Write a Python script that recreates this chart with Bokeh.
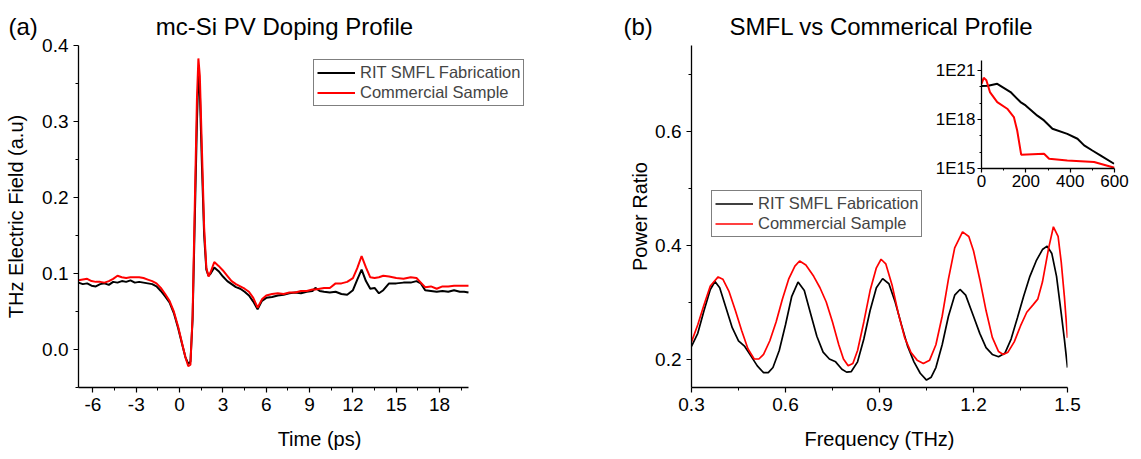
from bokeh.plotting import figure
from bokeh.layouts import row, column
from bokeh.models import (FixedTicker, PrintfTickFormatter, CustomJSTickFormatter,
                          Label, Legend, LegendItem, Range1d)
from bokeh.embed import file_html
from bokeh.resources import INLINE

FONT = "Liberation Sans"

# ---- (a) THz time-domain waveforms ----
time_ps = [-7.0, -6.7, -6.4, -6.1, -5.8, -5.5, -5.2, -4.9, -4.6, -4.3,
           -4.0, -3.7, -3.4, -3.1, -2.8, -2.5, -2.2, -1.9, -1.6, -1.3,
           -1.0, -0.7, -0.4, -0.1, 0.2, 0.4, 0.6, 0.75, 0.9, 1.05,
           1.2, 1.3, 1.4, 1.55, 1.7, 1.85, 2.0, 2.15, 2.4, 2.7,
           3.0, 3.3, 3.6, 3.9, 4.2, 4.5, 4.8, 5.1, 5.4, 5.7,
           6.0, 6.4, 6.8, 7.2, 7.6, 8.0, 8.4, 8.8, 9.2, 9.4,
           9.7, 10.0, 10.4, 10.8, 11.2, 11.6, 12.0, 12.3, 12.6, 12.9,
           13.2, 13.5, 13.8, 14.1, 14.5, 15.0, 15.5, 16.0, 16.4, 16.7,
           17.0, 17.4, 17.8, 18.2, 18.6, 19.0, 19.4, 19.7, 20.0]
field_smfl = [0.088, 0.086, 0.087, 0.084, 0.083, 0.086, 0.087, 0.085, 0.089, 0.088,
              0.090, 0.089, 0.091, 0.088, 0.089, 0.088, 0.087, 0.086, 0.083, 0.077,
              0.070, 0.062, 0.048, 0.028, 0.005, -0.010, -0.019, -0.016, 0.040, 0.170,
              0.300, 0.360, 0.340, 0.240, 0.150, 0.105, 0.097, 0.100, 0.108, 0.103,
              0.096, 0.090, 0.086, 0.082, 0.080, 0.076, 0.071, 0.063, 0.053, 0.064,
              0.068, 0.069, 0.071, 0.072, 0.074, 0.075, 0.074, 0.076, 0.077, 0.081,
              0.077, 0.076, 0.075, 0.076, 0.073, 0.072, 0.078, 0.092, 0.105, 0.090,
              0.080, 0.081, 0.074, 0.078, 0.087, 0.087, 0.088, 0.088, 0.090, 0.087,
              0.078, 0.077, 0.076, 0.077, 0.076, 0.078, 0.076, 0.076, 0.075]
field_comm = [0.091, 0.092, 0.093, 0.090, 0.089, 0.089, 0.088, 0.090, 0.093, 0.097,
              0.095, 0.094, 0.095, 0.095, 0.095, 0.094, 0.092, 0.090, 0.087, 0.081,
              0.073, 0.064, 0.050, 0.030, 0.006, -0.010, -0.022, -0.020, 0.045, 0.190,
              0.330, 0.383, 0.360, 0.260, 0.160, 0.108, 0.096, 0.102, 0.115, 0.110,
              0.104, 0.097, 0.090, 0.086, 0.083, 0.080, 0.076, 0.068, 0.055, 0.066,
              0.071, 0.073, 0.074, 0.073, 0.075, 0.075, 0.077, 0.077, 0.079, 0.079,
              0.080, 0.081, 0.081, 0.087, 0.087, 0.089, 0.094, 0.107, 0.123, 0.108,
              0.095, 0.094, 0.095, 0.097, 0.096, 0.094, 0.093, 0.095, 0.094, 0.088,
              0.082, 0.083, 0.080, 0.083, 0.083, 0.084, 0.084, 0.084, 0.084]

# ---- (b) power ratio spectra ----
freq_smfl = [0.300, 0.320, 0.340, 0.360, 0.375, 0.390, 0.410, 0.430, 0.450, 0.470,
             0.490, 0.510, 0.530, 0.545, 0.560, 0.580, 0.600, 0.620, 0.640, 0.660,
             0.680, 0.700, 0.720, 0.740, 0.760, 0.780, 0.795, 0.810, 0.830, 0.850,
             0.870, 0.890, 0.910, 0.930, 0.950, 0.970, 0.990, 1.010, 1.030, 1.050,
             1.065, 1.080, 1.100, 1.120, 1.140, 1.157, 1.175, 1.200, 1.220, 1.240,
             1.260, 1.280, 1.300, 1.320, 1.340, 1.360, 1.380, 1.400, 1.420, 1.435,
             1.450, 1.465, 1.480, 1.490, 1.500]
ratio_smfl = [0.222, 0.245, 0.285, 0.322, 0.336, 0.325, 0.290, 0.255, 0.232, 0.222,
              0.205, 0.188, 0.176, 0.176, 0.185, 0.215, 0.260, 0.310, 0.335, 0.320,
              0.280, 0.240, 0.212, 0.200, 0.195, 0.182, 0.177, 0.178, 0.195, 0.235,
              0.285, 0.325, 0.341, 0.332, 0.300, 0.260, 0.222, 0.195, 0.175, 0.163,
              0.168, 0.185, 0.225, 0.275, 0.312, 0.322, 0.312, 0.275, 0.245, 0.220,
              0.208, 0.204, 0.210, 0.235, 0.272, 0.310, 0.345, 0.372, 0.392, 0.398,
              0.385, 0.345, 0.280, 0.235, 0.185]
freq_comm = [0.300, 0.320, 0.340, 0.360, 0.385, 0.400, 0.420, 0.440, 0.460, 0.480,
             0.500, 0.515, 0.530, 0.550, 0.570, 0.590, 0.610, 0.630, 0.645, 0.665,
             0.690, 0.710, 0.730, 0.750, 0.770, 0.785, 0.800, 0.815, 0.830, 0.850,
             0.870, 0.890, 0.905, 0.920, 0.940, 0.960, 0.980, 1.000, 1.020, 1.040,
             1.060, 1.080, 1.100, 1.120, 1.140, 1.165, 1.185, 1.200, 1.220, 1.240,
             1.260, 1.280, 1.295, 1.310, 1.330, 1.350, 1.370, 1.390, 1.405, 1.420,
             1.440, 1.455, 1.470, 1.480, 1.490, 1.500]
ratio_comm = [0.230, 0.260, 0.295, 0.328, 0.344, 0.340, 0.318, 0.285, 0.250, 0.218,
              0.200, 0.200, 0.208, 0.232, 0.265, 0.305, 0.340, 0.363, 0.372, 0.365,
              0.345, 0.325, 0.300, 0.265, 0.225, 0.200, 0.188, 0.192, 0.215, 0.265,
              0.320, 0.360, 0.375, 0.367, 0.330, 0.280, 0.238, 0.212, 0.198, 0.192,
              0.198, 0.225, 0.275, 0.340, 0.395, 0.423, 0.415, 0.390, 0.340, 0.285,
              0.238, 0.213, 0.208, 0.212, 0.230, 0.258, 0.282, 0.295, 0.305, 0.335,
              0.395, 0.432, 0.415, 0.370, 0.310, 0.237]

# ---- inset: doping depth profiles ----
depth_smfl = [0, 30, 71, 131, 176, 199, 252, 282, 320, 387, 433, 463, 500, 538, 598]
conc_smfl = [1.1e20, 1.15e20, 1.5e20, 4.7e19, 1.15e19, 7.2e18, 1.7e18, 8.7e17,
             2.7e17, 1.3e17, 6.6e16, 2.6e16, 1.26e16, 6.2e15, 1.95e15]
depth_comm = [0, 10, 22, 38, 71, 116, 146, 161, 179, 282, 305, 387, 508, 600]
conc_comm = [1.5e20, 3.5e20, 2.5e20, 4.7e19, 1.15e19, 4.5e18, 1.4e18, 2.1e17,
             7.0e15, 8.0e15, 3.9e15, 3.1e15, 2.5e15, 1.1e15]

left_xticks = [-6, -3, 0, 3, 6, 9, 12, 15, 18]
left_yticks = [0.0, 0.1, 0.2, 0.3, 0.4]
right_xticks = [0.3, 0.6, 0.9, 1.2, 1.5]
right_yticks = [0.2, 0.4, 0.6]
inset_xticks = [0, 200, 400, 600]
inset_yticks = [1e15, 1e18, 1e21]

BLACK = "#000000"
RED = "#ff0000"
W, H = 1141, 459


def style_axis(ax, size="19px", tick=5, minor=3):
    ax.axis_line_color = "black"
    ax.axis_line_width = 1.3
    ax.major_tick_line_color = "black"
    ax.major_tick_line_width = 1.2
    ax.minor_tick_line_color = "black"
    ax.minor_tick_line_width = 1.0
    ax.major_tick_in = 0
    ax.major_tick_out = tick
    ax.minor_tick_in = 0
    ax.minor_tick_out = minor
    ax.major_label_text_font = FONT
    ax.major_label_text_font_size = size
    ax.major_label_text_color = "black"
    ax.axis_label_text_font = FONT
    ax.axis_label_text_font_size = "20px"
    ax.axis_label_text_font_style = "normal"
    ax.axis_label_text_color = "black"


def base_fig(**kw):
    p = figure(output_backend="svg", toolbar_location=None, **kw)
    p.outline_line_color = None
    p.xgrid.visible = False
    p.ygrid.visible = False
    # each figure keeps its own borders; layouts must not line frames up
    try:
        p.frame_align = False
    except AttributeError:
        pass
    return p


def add_legend(p, r1, r2, loc):
    leg = Legend(items=[LegendItem(label="RIT SMFL Fabrication", renderers=[r1]),
                        LegendItem(label="Commercial Sample", renderers=[r2])],
                 location=loc)
    leg.label_text_font = FONT
    leg.label_text_font_size = "16.5px"
    leg.glyph_width = 38
    leg.glyph_height = 19
    leg.label_height = 19
    leg.label_standoff = 5
    leg.spacing = 1
    leg.padding = 3
    leg.margin = 0
    leg.border_line_color = "black"
    leg.border_line_width = 1
    leg.background_fill_alpha = 1
    p.add_layout(leg)


# panel (a): frame runs on to the right edge so the legend is not cut,
# the axes themselves stop at the data limits
p1 = base_fig(frame_width=482, frame_height=342,
              min_border_left=78, min_border_right=0,
              min_border_top=45, min_border_bottom=72,
              x_range=Range1d(-7, 26.37), y_range=Range1d(-0.05, 0.4))
p1.background_fill_alpha = 0
p1.border_fill_alpha = 0
a1 = p1.line(time_ps, field_smfl, line_color=BLACK, line_width=2)
a2 = p1.line(time_ps, field_comm, line_color=RED, line_width=2)
p1.xaxis.ticker = FixedTicker(ticks=left_xticks,
                              minor_ticks=[-4.5, -1.5, 1.5, 4.5, 7.5, 10.5, 13.5, 16.5, 19.5])
p1.yaxis.ticker = FixedTicker(ticks=left_yticks,
                              minor_ticks=[-0.05, 0.05, 0.15, 0.25, 0.35])
p1.xaxis.bounds = (-7, 20)
p1.xaxis.formatter = PrintfTickFormatter(format="%d")
p1.yaxis.formatter = PrintfTickFormatter(format="%.1f")
p1.xaxis.axis_label = "Time (ps)"
p1.yaxis.axis_label = "THz Electric Field (a.u)"
style_axis(p1.xaxis[0])
style_axis(p1.yaxis[0])
p1.yaxis.axis_label_standoff = 12
p1.xaxis.axis_label_standoff = 14
add_legend(p1, a1, a2, (235, 281))

# panel (b)
p2 = base_fig(frame_width=376, frame_height=342,
              min_border_left=131, min_border_right=74,
              min_border_top=45, min_border_bottom=72,
              x_range=Range1d(0.3, 1.5), y_range=Range1d(0.15, 0.75))
p2.background_fill_alpha = 0
p2.border_fill_alpha = 0
b1 = p2.line(freq_smfl, ratio_smfl, line_color=BLACK, line_width=1.7)
b2 = p2.line(freq_comm, ratio_comm, line_color=RED, line_width=1.7)
p2.xaxis.ticker = FixedTicker(ticks=right_xticks, minor_ticks=[0.45, 0.75, 1.05, 1.35])
p2.yaxis.ticker = FixedTicker(ticks=right_yticks, minor_ticks=[0.3, 0.5, 0.7])
p2.xaxis.formatter = PrintfTickFormatter(format="%.1f")
p2.yaxis.formatter = PrintfTickFormatter(format="%.1f")
p2.xaxis.axis_label = "Frequency (THz)"
p2.yaxis.axis_label = "Power Ratio"
style_axis(p2.xaxis[0])
style_axis(p2.yaxis[0])
p2.yaxis.axis_label_standoff = 1
p2.xaxis.axis_label_standoff = 14
add_legend(p2, b1, b2, (20, 150))

# inset with the depth profiles (log scale)
ins = base_fig(frame_width=133, frame_height=108,
               min_border_left=50, min_border_right=22,
               min_border_top=10, min_border_bottom=28,
               x_range=Range1d(0, 600), y_range=Range1d(1e15, 4e21),
               y_axis_type="log")
ins.background_fill_alpha = 0
ins.border_fill_alpha = 0
ins.line(depth_smfl, conc_smfl, line_color=BLACK, line_width=2)
ins.line(depth_comm, conc_comm, line_color=RED, line_width=2)
ins.xaxis.ticker = FixedTicker(ticks=inset_xticks, minor_ticks=[100, 300, 500])
ins.yaxis.ticker = FixedTicker(ticks=inset_yticks,
                               minor_ticks=[1e16, 1e17, 1e19, 1e20])
ins.yaxis.formatter = CustomJSTickFormatter(code="return '1E' + Math.round(Math.log10(tick));")
ins.xaxis.formatter = PrintfTickFormatter(format="%d")
style_axis(ins.xaxis[0], size="17px", tick=4, minor=2)
style_axis(ins.yaxis[0], size="17px", tick=4, minor=2)
ins.xaxis.major_label_standoff = 2
ins.yaxis.major_label_standoff = 2
ins.margin = (-409, 0, 0, 931)

# transparent page-sized layer carrying the panel titles (pixel coordinates, y down)
top = base_fig(width=W, height=H,
               min_border_left=0, min_border_right=0,
               min_border_top=0, min_border_bottom=0,
               x_axis_location=None, y_axis_location=None,
               x_range=Range1d(0, W), y_range=Range1d(H, 0))
top.background_fill_alpha = 0
top.border_fill_alpha = 0
for txt, x, align in [("(a)", 8, "left"), ("mc-Si PV Doping Profile", 284, "center"),
                      ("(b)", 623, "left"), ("SMFL vs Commerical Profile", 881, "center")]:
    top.add_layout(Label(x=x, y=26, text=txt, text_align=align, text_baseline="alphabetic",
                         text_font=FONT, text_font_size="24px", text_color="black"))
top.margin = (-196, 0, 0, 0)

layout = column(row(p1, p2), ins, top)
open("out.html", "w").write(file_html(layout, INLINE))
